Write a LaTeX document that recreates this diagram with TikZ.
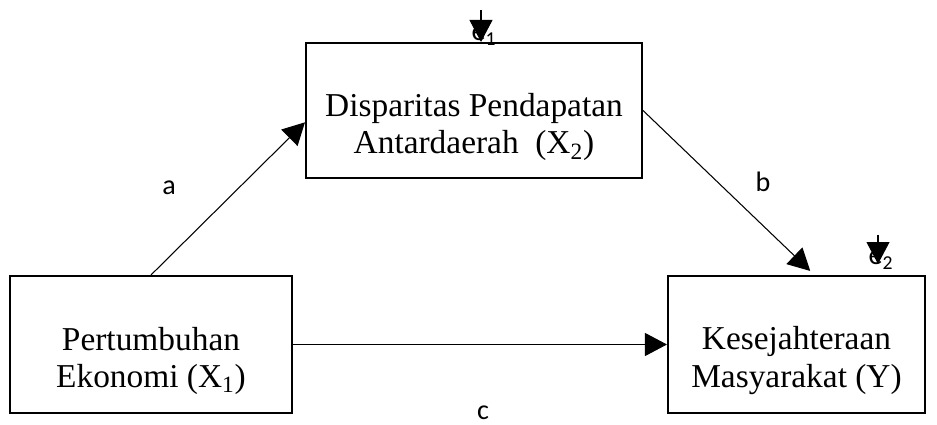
\documentclass[tikz,border=0pt]{standalone}
\usepackage{fontspec}
\setmainfont{Liberation Serif}
\newfontfamily\calib{Carlito}
\usetikzlibrary{%
  arrows.meta,
  positioning,
  calc
}
\tikzstyle{varblock} = [draw, rectangle, line width=1.2pt, minimum height=2.74cm, inner sep=0pt]
\tikzstyle{vartext} = [align=center, font=\fontsize{19}{21.6}\selectfont, yshift=-0.33cm]
\tikzstyle{pathlabel} = [font=\calib\fontsize{16}{19}\selectfont, inner sep=0pt]
\tikzstyle{link} = [->, line width=0.6pt]
\tikzstyle{errpoint} = [coordinate]

\begin{document}
\begin{tikzpicture}[x=0.02cm, y=-0.02cm, >={Triangle[length=0.44cm,width=0.46cm]}]
        \useasboundingbox (0,0) rectangle (937,425);
        % variables
        \node[varblock, minimum width=5.64cm] (growth) at (151,344.5) {};
        \node[varblock, minimum width=6.72cm, minimum height=2.70cm] (disparity) at (474,110.5) {};
        \node[varblock, minimum width=5.14cm] (welfare) at (796.5,344.5) {};
        \node[vartext] (growthtext) at (growth.center) {Pertumbuhan\\Ekonomi (X\textsubscript{1})};
        \node[vartext] (disparitytext) at (disparity.center) {Disparitas Pendapatan\\Antardaerah\ \ (X\textsubscript{2})};
        \node[vartext] (welfaretext) at (welfare.center) {Kesejahteraan\\Masyarakat (Y)};
        % path labels
        \node[pathlabel] (la) at (169,188) {a};
        \node[pathlabel] (lb) at (763,182) {b};
        \node[pathlabel] (lc) at (483,413) {c};
        \node[pathlabel, anchor=base] (le1) at (484,41) {e\textsubscript{1}};
        \node[pathlabel, anchor=base] (le2) at (881,265) {e\textsubscript{2}};
        % error terms
        \node[errpoint] (e1top) at (481,10) {};
        \node[errpoint] (e2top) at (878,235) {};
        \node[errpoint] (e2end) at (878,264) {};
        % paths
        \draw[link] (growth.north) -- (disparity.184);
        \draw[link] (disparity.east) -- ($(welfare.north west)!0.553!(welfare.north east)+(0,-4)$);
        \draw[link] (growth.east) -- (welfare.west);
        \draw[link] (e1top) -- (e1top |- disparity.north);
        \draw[link] (e2top) -- (e2end);
      \end{tikzpicture}
\end{document}
